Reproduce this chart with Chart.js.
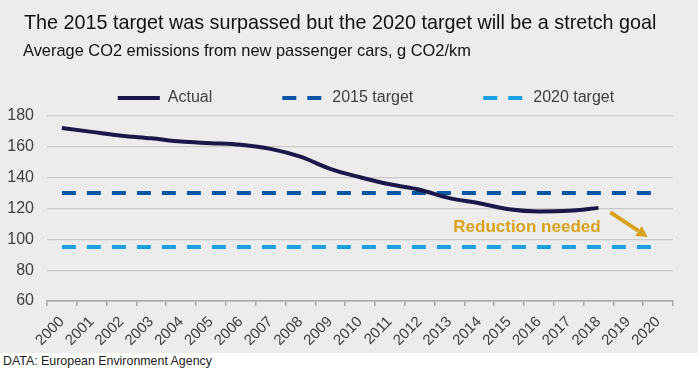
<!DOCTYPE html>
<html lang="en">
<head>
<meta charset="UTF-8">
<title>Average CO2 emissions from new passenger cars</title>
<script src="https://cdn.jsdelivr.net/npm/chart.js"></script>
<style>
  body { margin: 0; width: 698px; height: 369px; background: #ececec; position: relative; overflow: hidden;
         font-family: "Liberation Sans", Arial, sans-serif; }
  #chartBox { position: absolute; left: 0; top: 0; width: 698px; height: 353px; }
  #title { position: absolute; left: 24px; top: 12px; font-size: 19.75px; line-height: 20px; color: #111; white-space: nowrap; }
  #subtitle { position: absolute; left: 23px; top: 42px; font-size: 16.4px; line-height: 16px; color: #111; white-space: nowrap; }
  #footer { position: absolute; left: 0; top: 353px; width: 695px; height: 16px; padding-left: 3px; background: #fff;
            font-size: 12.4px; line-height: 16px; color: #222; white-space: nowrap; }
</style>
</head>
<body>
<div id="chartBox"><canvas id="myChart"></canvas></div>
<div id="title">The 2015 target was surpassed but the 2020 target will be a stretch goal</div>
<div id="subtitle">Average CO2 emissions from new passenger cars, g CO2/km</div>
<div id="footer">DATA: European Environment Agency</div>

<script>
// data
const years = ['2000', '2001', '2002', '2003', '2004', '2005', '2006', '2007', '2008', '2009', '2010',
               '2011', '2012', '2013', '2014', '2015', '2016', '2017', '2018', '2019', '2020'];
const actual = [172.2, 169.7, 167.2, 165.5, 163.4, 162.4, 161.3, 158.7, 153.6, 145.7, 140.3,
                135.7, 132.2, 126.7, 123.4, 119.5, 118.1, 118.5, 120.4, null, null];
const target2015 = [130, 130, 130, 130, 130, 130, 130, 130, 130, 130, 130,
                    130, 130, 130, 130, 130, 130, 130, 130, 130, 130];
const target2020 = [95, 95, 95, 95, 95, 95, 95, 95, 95, 95, 95,
                    95, 95, 95, 95, 95, 95, 95, 95, 95, 95];
const yMin = 60, yMax = 180, yStep = 20;

// annotation, in axis units (category index, g CO2/km)
const noteText = 'Reduction needed';
const noteAt = [15.6, 107.5];
const arrowFrom = [18.4, 117.5];
const arrowTo = [19.65, 101.5];

const font = '"Liberation Sans", Arial, sans-serif';
const gold = '#d8a21c';
const axisGrey = '#a6a6a6';
const textGrey = '#404040';

const noteWithArrow = {
    id: 'noteWithArrow',
    afterDatasetsDraw(chart) {
        const { ctx, scales: { x, y } } = chart;
        ctx.save();
        ctx.fillStyle = gold;
        ctx.strokeStyle = gold;
        ctx.font = 'bold 17px ' + font;
        ctx.textAlign = 'center';
        ctx.textBaseline = 'middle';
        ctx.fillText(noteText, x.getPixelForValue(noteAt[0]), y.getPixelForValue(noteAt[1]));

        const x1 = x.getPixelForValue(arrowFrom[0]), y1 = y.getPixelForValue(arrowFrom[1]);
        const x2 = x.getPixelForValue(arrowTo[0]), y2 = y.getPixelForValue(arrowTo[1]);
        const ang = Math.atan2(y2 - y1, x2 - x1);
        const head = 11;
        const bx = x2 - head * Math.cos(ang), by = y2 - head * Math.sin(ang);
        ctx.lineWidth = 4;
        ctx.beginPath();
        ctx.moveTo(x1, y1);
        ctx.lineTo(bx, by);
        ctx.stroke();
        ctx.beginPath();
        ctx.moveTo(x2, y2);
        ctx.lineTo(bx + 6 * Math.sin(ang), by - 6 * Math.cos(ang));
        ctx.lineTo(bx - 6 * Math.sin(ang), by + 6 * Math.cos(ang));
        ctx.closePath();
        ctx.fill();
        ctx.restore();
    }
};

// the legend in the picture sits a little right of centre
const legendShift = {
    id: 'legendShift',
    afterLayout(chart) {
        chart.legend.left += 26;
        chart.legend.right += 26;
    }
};

const ctx = document.getElementById('myChart').getContext('2d');
new Chart(ctx, {
    type: 'line',
    data: {
        labels: years,
        datasets: [{
            label: 'Actual',
            data: actual,
            borderColor: '#1b1748',
            borderWidth: 4,
            cubicInterpolationMode: 'monotone',
            pointRadius: 0
        }, {
            label: '2015 target',
            data: target2015,
            borderColor: '#0b57a6',
            borderWidth: 4,
            borderDash: [14, 11],
            pointRadius: 0
        }, {
            label: '2020 target',
            data: target2020,
            borderColor: '#1ba0e2',
            borderWidth: 4,
            borderDash: [14, 11],
            pointRadius: 0
        }]
    },
    options: {
        responsive: true,
        maintainAspectRatio: false,
        animation: false,
        layout: { padding: { top: 20, left: 7, right: 25, bottom: 2 } },
        plugins: {
            tooltip: { enabled: false },
            legend: {
                position: 'top',
                labels: {
                    usePointStyle: true,
                    pointStyle: 'line',
                    pointStyleWidth: 42,
                    padding: 70,
                    color: textGrey,
                    font: { size: 16, family: font },
                    generateLabels(chart) {
                        return chart.data.datasets.map((ds, i) => ({
                            text: ds.label,
                            datasetIndex: i,
                            fillStyle: ds.borderColor,
                            strokeStyle: ds.borderColor,
                            lineWidth: ds.borderWidth,
                            lineDash: ds.borderDash || [],
                            pointStyle: 'line',
                            fontColor: textGrey
                        }));
                    }
                }
            }
        },
        scales: {
            x: {
                offset: true,
                border: { color: axisGrey, width: 1.5 },
                grid: { offset: true, drawOnChartArea: false, drawTicks: true, tickLength: 5, color: axisGrey, lineWidth: 1.5 },
                ticks: {
                    autoSkip: false,
                    minRotation: 45,
                    maxRotation: 45,
                    padding: 7,
                    color: textGrey,
                    font: { size: 15, family: font }
                },
                afterFit(scale) {
                    scale.paddingLeft = 0;
                    scale.paddingRight = 0;
                    scale.height = 50;
                }
            },
            y: {
                min: yMin,
                max: yMax,
                border: { display: false },
                grid: { color: '#c9c9c9', lineWidth: 1.3, drawTicks: false },
                ticks: {
                    stepSize: yStep,
                    padding: 13,
                    color: textGrey,
                    font: { size: 16, family: font }
                },
                afterFit(scale) {
                    scale.width = 40;
                }
            }
        }
    },
    plugins: [noteWithArrow, legendShift]
});
</script>
</body>
</html>
